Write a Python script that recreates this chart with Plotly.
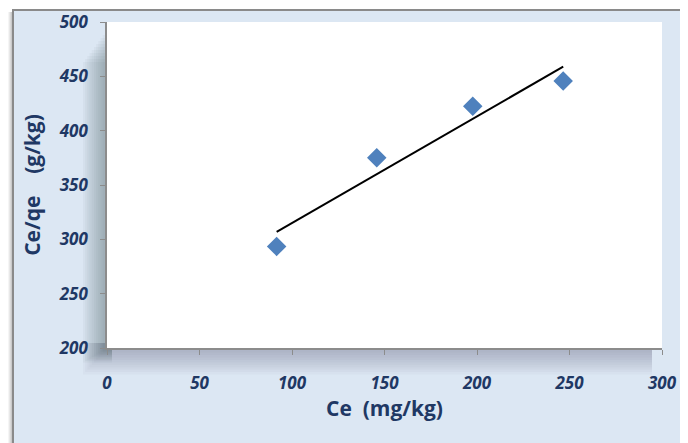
import numpy as np
import plotly.graph_objects as go

# ---- data ----
ce_values = [91.7, 145.8, 197.7, 246.6]          # Ce (mg/kg)
ce_qe_values = [293.5, 375.0, 422.4, 445.8]      # Ce/qe (g/kg)
x_ticks = [0, 50, 100, 150, 200, 250, 300]
y_ticks = [200, 250, 300, 350, 400, 450, 500]
x_title = "Ce&nbsp;&nbsp;(mg/kg)"
y_title = "Ce/qe&nbsp;&nbsp;&nbsp;&nbsp;(g/kg)"

# linear trendline fitted to the data
slope, intercept = np.polyfit(ce_values, ce_qe_values, 1)
trend_x = [min(ce_values), max(ce_values)]
trend_y = [slope * v + intercept for v in trend_x]

# page has an 8px body margin; work in page pixels and convert
OFF = 8
W, H = 688 - OFF, 443 - OFF
PL, PR, PT, PB = 107, 662, 22, 348     # plot area in page pixels
L, T = PL - OFF, PT - OFF
R = (688 - PR)
B = (443 - PB)
pw, ph = PR - PL, PB - PT

def px(xp):
    return (xp - PL) / pw

def py(yp):
    return (PB - yp) / ph

navy = "#1f3864"
FRAME_L, FRAME_T = 13, 10

shapes = []
# outer frame drop shadow (left side)
for i, op in enumerate([0.04, 0.05, 0.06, 0.07]):
    off = 5 - i
    shapes.append(dict(type="rect", xref="paper", yref="paper",
                       x0=px(FRAME_L - off), x1=px(700), y0=py(460), y1=py(FRAME_T + 2),
                       line=dict(width=0), fillcolor=f"rgba(0,0,0,{op})", layer="below"))
# frame with light-blue background
shapes.append(dict(type="rect", xref="paper", yref="paper",
                   x0=px(FRAME_L), x1=px(700), y0=py(460), y1=py(FRAME_T),
                   line=dict(color="#8a8a8a", width=2), fillcolor="#dce7f3", layer="below"))
# soft shadow of the plot area (left and bottom)
for i in range(10):
    w = 24 - i * 2.2
    shapes.append(dict(type="rect", xref="paper", yref="paper",
                       x0=px(PL - w), x1=px(PL + 5), y0=py(PB + w * 0.6), y1=py(PT + 40 - i * 3),
                       line=dict(width=0), fillcolor="rgba(60,70,80,0.04)", layer="below"))
    shapes.append(dict(type="rect", xref="paper", yref="paper",
                       x0=px(PL - w), x1=px(PR - 10), y0=py(PB + w * 1.1), y1=py(PB - 5),
                       line=dict(width=0), fillcolor="rgba(60,70,80,0.03)", layer="below"))
# white plot area
shapes.append(dict(type="rect", xref="paper", yref="paper",
                   x0=0, x1=1, y0=0, y1=1,
                   line=dict(width=0), fillcolor="white", layer="below"))

fig = go.Figure()
fig.add_trace(go.Scatter(
    x=ce_values, y=ce_qe_values, mode="markers",
    marker=dict(symbol="diamond", size=15, color="#4f81bd",
                line=dict(width=0)),
    showlegend=False, hoverinfo="skip"))
fig.add_trace(go.Scatter(
    x=trend_x, y=trend_y, mode="lines",
    line=dict(color="black", width=2),
    showlegend=False, hoverinfo="skip"))

tick_font = dict(family="'Open Sans', sans-serif", size=17, color=navy)
title_font = dict(family="'Open Sans', sans-serif", size=21, color=navy)

fig.update_layout(
    width=W, height=H,
    margin=dict(l=L, r=R, t=T, b=B, pad=0, autoexpand=False),
    paper_bgcolor="white",
    plot_bgcolor="rgba(0,0,0,0)",
    shapes=shapes,
    xaxis=dict(range=[0, 300], tickvals=x_ticks,
               ticktext=[f"<b><i>{v}</i></b>" for v in x_ticks],
               automargin=False,
               showgrid=False, zeroline=False, showline=True, linecolor="#8c8c8c",
               linewidth=1.5, ticks="outside", ticklen=5, tickcolor="#8c8c8c",
               tickfont=tick_font, ticklabelstandoff=14,
               title=dict(text=f"<b>{x_title}</b>", font=title_font, standoff=6)),
    yaxis=dict(range=[200, 500], tickvals=y_ticks,
               ticktext=[f"<b><i>{v}</i></b>" for v in y_ticks],
               automargin=False,
               showgrid=False, zeroline=False, showline=True, linecolor="#8c8c8c",
               linewidth=1.5, ticks="outside", ticklen=5, tickcolor="#8c8c8c",
               tickfont=tick_font, ticklabelstandoff=9,
               title=dict(text=f"<b>{y_title}</b>", font=title_font, standoff=12)),
)

fig.write_html("out.html")
